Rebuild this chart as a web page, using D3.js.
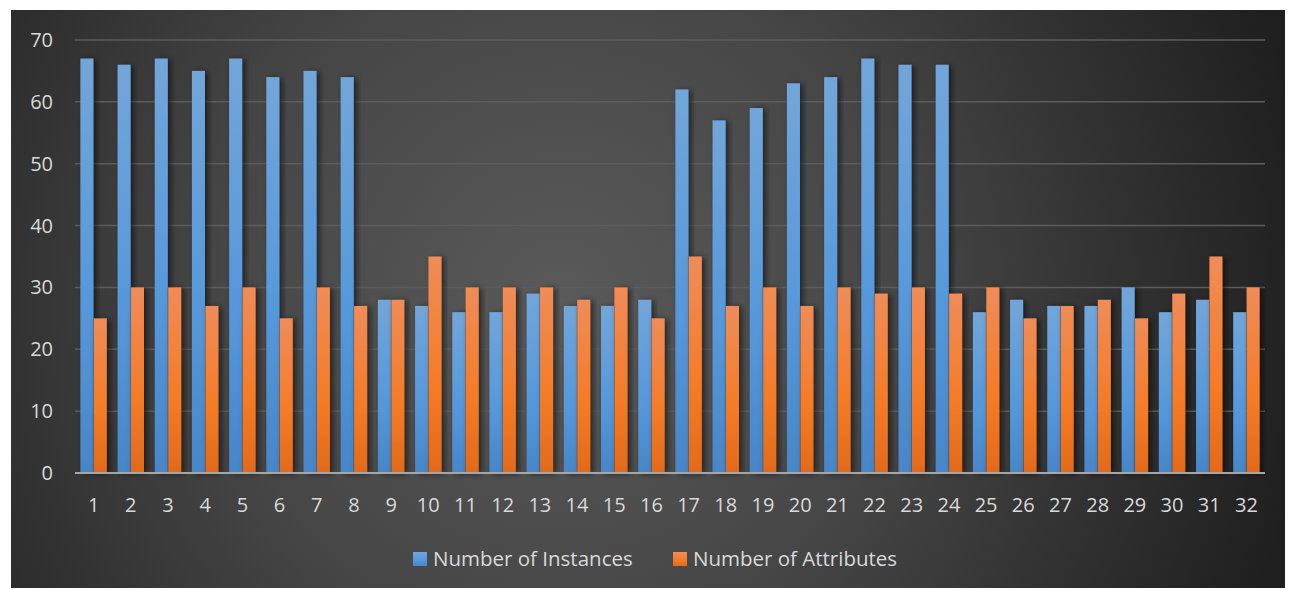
<!DOCTYPE html>
<html>
<head>
<meta charset="utf-8">
<script src="https://cdn.jsdelivr.net/npm/d3@7"></script>
<style>
  html, body { margin: 0; padding: 0; background: #fff; }
  svg { display: block; font-family: "Open Sans", "Noto Sans", sans-serif; }
</style>
</head>
<body>
<div id="chart"></div>
<script>
const categories = d3.range(1, 33).map(String);
const instances = [67, 66, 67, 65, 67, 64, 65, 64, 28, 27, 26, 26, 29, 27, 27, 28,
                   62, 57, 59, 63, 64, 67, 66, 66, 26, 28, 27, 27, 30, 26, 28, 26];
const attributes = [25, 30, 30, 27, 30, 25, 30, 27, 28, 35, 30, 30, 30, 28, 30, 25,
                    35, 27, 30, 27, 30, 29, 30, 29, 30, 25, 27, 28, 25, 29, 35, 30];
const seriesNames = ['Number of Instances', 'Number of Attributes'];
const yTicks = [0, 10, 20, 30, 40, 50, 60, 70];

const W = 1291, H = 590;
const margin = { left: 75, right: 26, top: 40, bottom: 117 };

const svg = d3.select('#chart').append('svg')
  .attr('width', W)
  .attr('height', H);

const defs = svg.append('defs');

// dark radial backdrop like the Excel style
const bg = defs.append('radialGradient')
  .attr('id', 'bg')
  .attr('gradientUnits', 'userSpaceOnUse')
  .attr('cx', 560).attr('cy', 300).attr('r', 760);
bg.append('stop').attr('offset', '0%').attr('stop-color', '#5a5a5a');
bg.append('stop').attr('offset', '45%').attr('stop-color', '#464646');
bg.append('stop').attr('offset', '100%').attr('stop-color', '#1f1f1f');

const blue = defs.append('linearGradient')
  .attr('id', 'blue').attr('x1', 0).attr('y1', 0).attr('x2', 0).attr('y2', 1);
blue.append('stop').attr('offset', '0%').attr('stop-color', '#72a6da');
blue.append('stop').attr('offset', '60%').attr('stop-color', '#5598db');
blue.append('stop').attr('offset', '100%').attr('stop-color', '#4786c8');

const orange = defs.append('linearGradient')
  .attr('id', 'orange').attr('x1', 0).attr('y1', 0).attr('x2', 0).attr('y2', 1);
orange.append('stop').attr('offset', '0%').attr('stop-color', '#f08c58');
orange.append('stop').attr('offset', '60%').attr('stop-color', '#f57b26');
orange.append('stop').attr('offset', '100%').attr('stop-color', '#e26a1a');

const shadow = defs.append('filter').attr('id', 'shadow')
  .attr('x', '-50%').attr('y', '-10%').attr('width', '200%').attr('height', '120%');
shadow.append('feDropShadow')
  .attr('dx', 3).attr('dy', 1).attr('stdDeviation', 3)
  .attr('flood-color', '#000').attr('flood-opacity', 0.55);

svg.append('rect')
  .attr('x', 11).attr('y', 10)
  .attr('width', 1274).attr('height', 578)
  .attr('fill', 'url(#bg)');

const x = d3.scaleBand()
  .domain(categories)
  .range([margin.left, W - margin.right])
  .paddingInner(0.29)
  .paddingOuter(0.145);

const x1 = d3.scaleBand()
  .domain(seriesNames)
  .range([0, x.bandwidth()])
  .paddingInner(0.03);

const y = d3.scaleLinear()
  .domain([0, 70])
  .range([H - margin.bottom, margin.top]);

// gridlines
svg.append('g')
  .selectAll('line')
  .data(yTicks.slice(1))
  .join('line')
  .attr('x1', margin.left)
  .attr('x2', W - margin.right)
  .attr('y1', d => y(d))
  .attr('y2', d => y(d))
  .attr('stroke', '#5c5c5c')
  .attr('stroke-width', 1.5);

// y labels
svg.append('g')
  .selectAll('text')
  .data(yTicks)
  .join('text')
  .attr('x', 53)
  .attr('y', d => y(d))
  .attr('dy', '0.35em')
  .attr('text-anchor', 'end')
  .attr('fill', '#d9d9d9')
  .style('font-size', '20px')
  .text(d => d);

const rows = categories.map((c, i) => ({ cat: c, vals: [instances[i], attributes[i]] }));
const fills = ['url(#blue)', 'url(#orange)'];

const groups = svg.append('g')
  .selectAll('g')
  .data(rows)
  .join('g')
  .attr('transform', d => `translate(${x(d.cat)},0)`);

groups.selectAll('rect')
  .data(d => d.vals.map((v, k) => ({ name: seriesNames[k], v, k })))
  .join('rect')
  .attr('x', d => x1(d.name))
  .attr('y', d => y(d.v))
  .attr('width', x1.bandwidth())
  .attr('height', d => y(0) - y(d.v))
  .attr('fill', d => fills[d.k])
  .attr('filter', 'url(#shadow)');

// x axis line
svg.append('line')
  .attr('x1', margin.left)
  .attr('x2', W - margin.right)
  .attr('y1', y(0))
  .attr('y2', y(0))
  .attr('stroke', '#a6a6a6')
  .attr('stroke-width', 2);

// x labels
svg.append('g')
  .selectAll('text')
  .data(categories)
  .join('text')
  .attr('x', d => x(d) + x.bandwidth() / 2)
  .attr('y', 505)
  .attr('dy', '0.35em')
  .attr('text-anchor', 'middle')
  .attr('fill', '#d9d9d9')
  .style('font-size', '20px')
  .text(d => d);

// legend
const legendX = [413, 673];
const legend = svg.append('g')
  .selectAll('g')
  .data(seriesNames)
  .join('g')
  .attr('transform', (d, i) => `translate(${legendX[i]},559)`);

legend.append('rect')
  .attr('x', 0).attr('y', -7)
  .attr('width', 14).attr('height', 14)
  .attr('fill', (d, i) => fills[i]);

legend.append('text')
  .attr('x', 20)
  .attr('dy', '0.35em')
  .attr('fill', '#d9d9d9')
  .style('font-size', '20.5px')
  .text(d => d);
</script>
</body>
</html>
